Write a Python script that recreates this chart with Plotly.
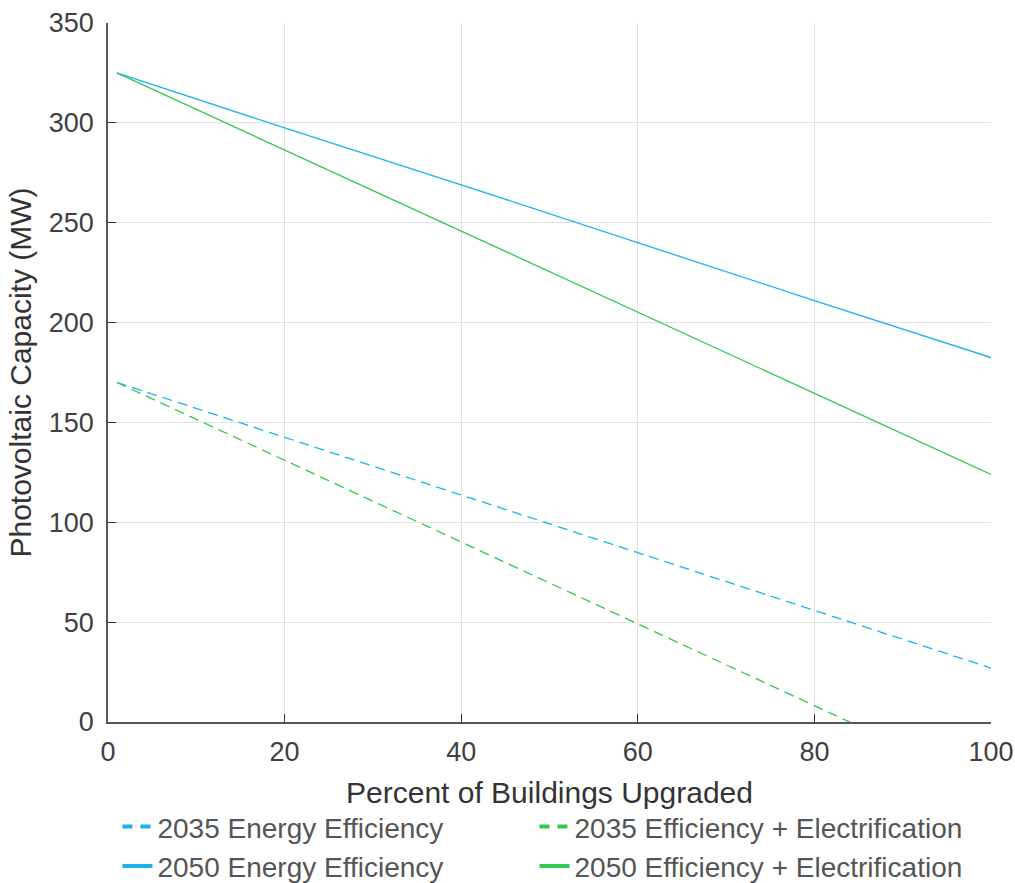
import plotly.graph_objects as go

pct_upgraded = [1, 20, 40, 60, 80, 100]
ee_2035 = [170, 142.6, 113.7, 84.8, 55.9, 27]
elec_2035 = [170, 131, 90.1, 49.2, 8.2, -32.8]
ee_2050 = [325, 297.5, 269, 240, 211, 182.5]
elec_2050 = [325, 286.4, 245.8, 205.2, 164.6, 124]

names = ["2035 Energy Efficiency", "2035 Efficiency + Electrification",
         "2050 Energy Efficiency", "2050 Efficiency + Electrification"]
series = [ee_2035, elec_2035, ee_2050, elec_2050]
BLUE = "#1AB3EC"
GREEN = "#33C84F"
colors = [BLUE, GREEN, BLUE, GREEN]
dashes = ["10px,6px", "10px,6px", "solid", "solid"]
leg_dashes = ["10px,8px", "10px,8px", "solid", "solid"]
legend_ids = ["legend", "legend2", "legend", "legend2"]

FONT = "Liberation Sans, Arial, sans-serif"
TXT = "#404040"

fig = go.Figure()
for n, ys, c, d in zip(names, series, colors, dashes):
    fig.add_trace(go.Scatter(x=pct_upgraded, y=ys, mode="lines", name=n,
                             line=dict(color=c, width=1.3, dash=d),
                             showlegend=False))
for n, c, d, lg in zip(names, colors, leg_dashes, legend_ids):
    fig.add_trace(go.Scatter(x=[None], y=[None], mode="lines", name=n,
                             line=dict(color=c, width=4, dash=d), legend=lg))

leg_common = dict(orientation="v", xanchor="left", y=-0.1143, yanchor="top",
                  font=dict(size=28, color="#555"), tracegroupgap=0,
                  bgcolor="rgba(0,0,0,0)")

fig.update_layout(
    width=1015, height=883,
    margin=dict(l=108, r=24, t=23, b=161, autoexpand=False),
    plot_bgcolor="white", paper_bgcolor="white",
    font=dict(family=FONT, size=27, color=TXT),
    xaxis=dict(range=[0, 100], tickvals=[0, 20, 40, 60, 80, 100],
               ticks="inside", ticklen=8, tickcolor="#333",
               showline=True, linecolor="#555", linewidth=1.5,
               showgrid=True, gridcolor="#e1e1e1", zeroline=False,
               ticklabelstandoff=5,
               tickfont=dict(size=27, color=TXT),
               title=dict(text="Percent of Buildings Upgraded", standoff=16,
                          font=dict(size=30, color="#333"))),
    yaxis=dict(range=[0, 350], tickvals=[0, 50, 100, 150, 200, 250, 300, 350],
               ticks="inside", ticklen=8, tickcolor="#333",
               showline=True, linecolor="#555", linewidth=1.5,
               showgrid=True, gridcolor="#e1e1e1", zeroline=False,
               ticklabelstandoff=7,
               tickfont=dict(size=27, color=TXT),
               title=dict(text="Photovoltaic Capacity (MW)", standoff=8,
                          font=dict(size=30, color="#333"))),
    legend=dict(x=0.0107, **leg_common),
    legend2=dict(x=0.483, **leg_common),
)

fig.write_html("out.html")
